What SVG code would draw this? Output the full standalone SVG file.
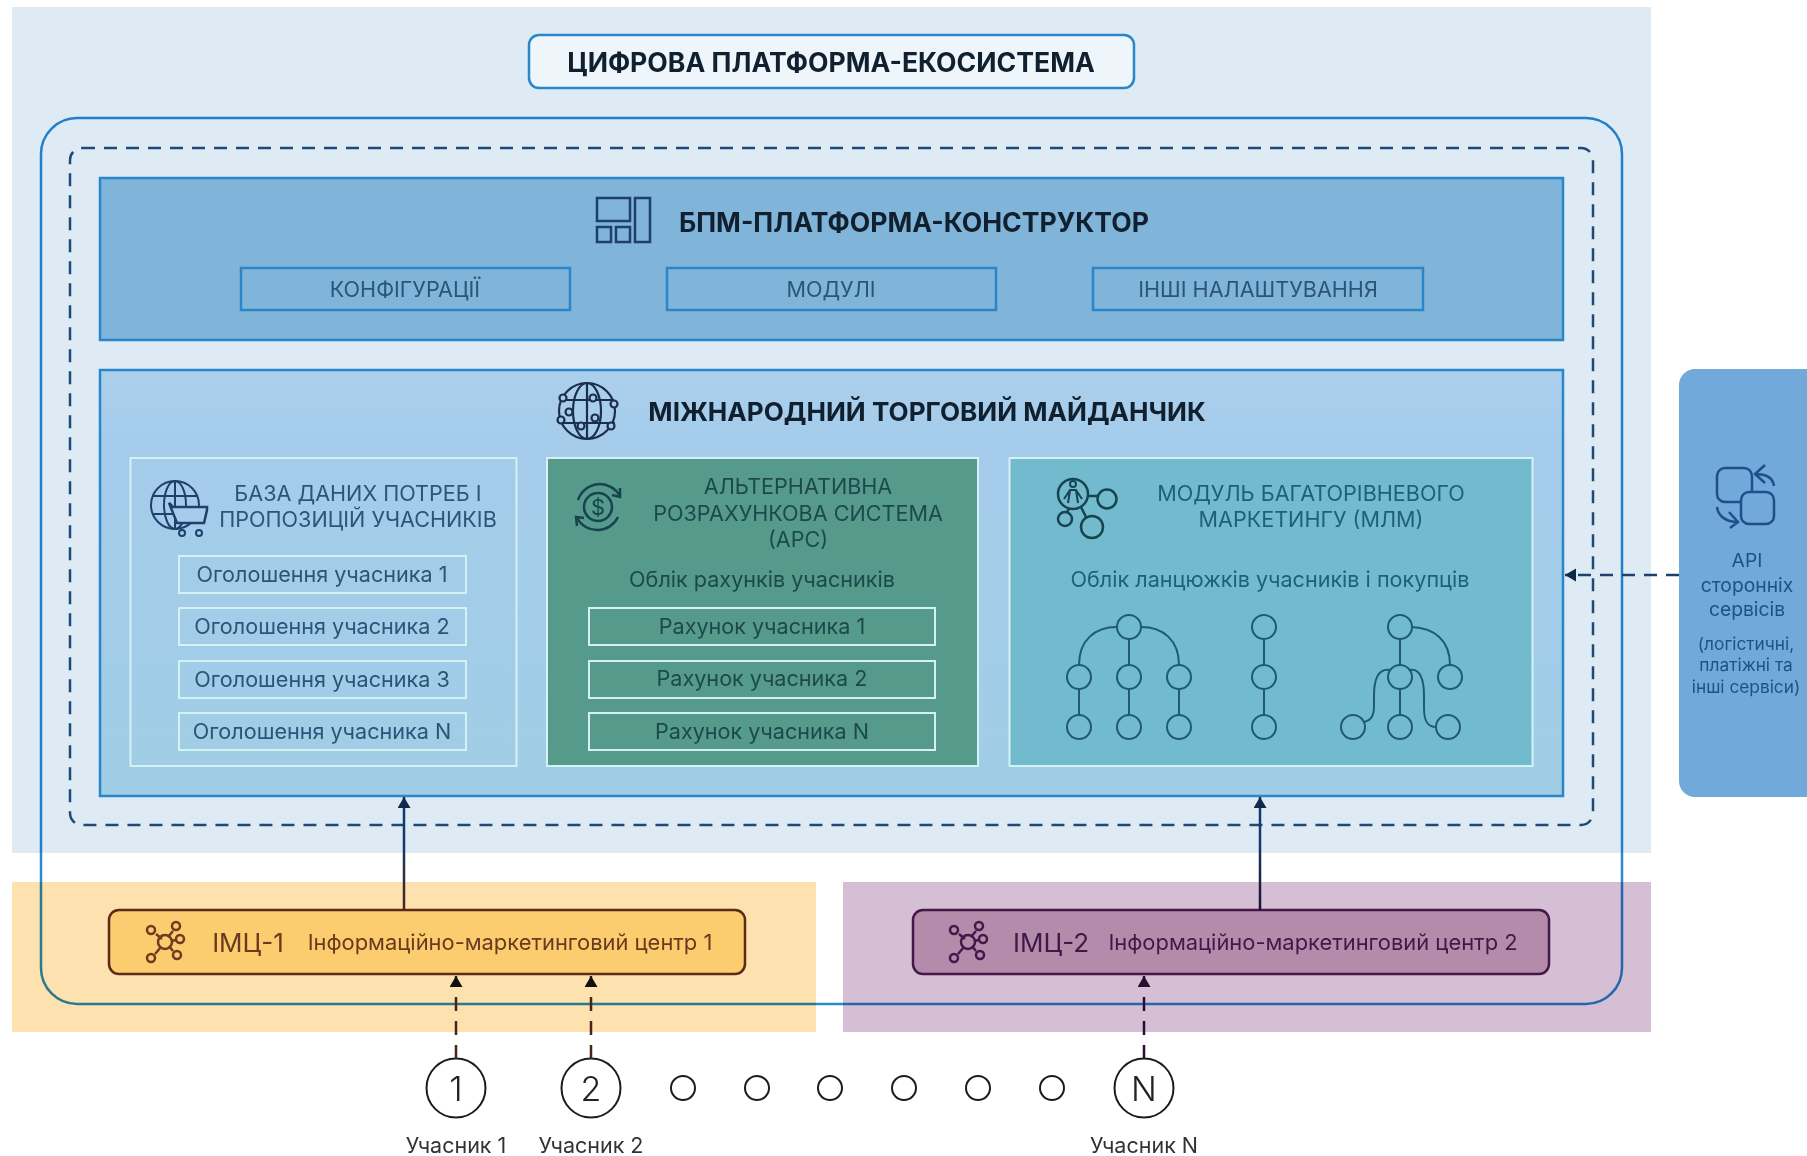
<svg xmlns="http://www.w3.org/2000/svg" width="1807" height="1156" viewBox="0 0 1807 1156">
<style>
text{font-family:Inter,"Noto Sans","Liberation Sans",sans-serif;text-anchor:middle;dominant-baseline:central}
.h{font-weight:700;fill:#10202f}
.t{fill:#2a5578;font-size:21.6px}
.g{fill:#1f5f78;font-size:21.6px}
.d{fill:#1c4a4c;font-size:21.6px}
.wb{fill:none;stroke:#d4f1f4;stroke-width:2}
.sub{fill:none;stroke:#2b86c9;stroke-width:2.5}
.ic{fill:none;stroke:#1f3f6d;stroke-width:2.5}
.icg{fill:none;stroke:#17444e;stroke-width:2.5}
.lk{fill:none;stroke:#1f5a72;stroke-width:2}
</style>
<defs>
<marker id="ah" markerUnits="userSpaceOnUse" markerWidth="12" markerHeight="14" refX="11" refY="6.5" orient="auto"><path d="M0,0L11,6.5L0,13Z" fill="#0f2a4a"/></marker>
<marker id="ab" markerUnits="userSpaceOnUse" markerWidth="12" markerHeight="14" refX="11" refY="6.5" orient="auto"><path d="M0,0L11,6.5L0,13Z" fill="#101010"/></marker>
<marker id="ap" markerUnits="userSpaceOnUse" markerWidth="12" markerHeight="14" refX="11" refY="6.5" orient="auto"><path d="M0,0L11,6.5L0,13Z" fill="#2a1030"/></marker>
<linearGradient id="up1" gradientUnits="userSpaceOnUse" x1="0" y1="796" x2="0" y2="910"><stop offset="0.4" stop-color="#123a6b"/><stop offset="1" stop-color="#4a2418"/></linearGradient>
<linearGradient id="up2" gradientUnits="userSpaceOnUse" x1="0" y1="796" x2="0" y2="910"><stop offset="0.4" stop-color="#123a6b"/><stop offset="1" stop-color="#1c1030"/></linearGradient>
<linearGradient id="mk" x1="0" y1="0" x2="0" y2="1"><stop offset="0" stop-color="#abd0ec"/><stop offset=".15" stop-color="#a5cceb"/><stop offset="1" stop-color="#a0cde6"/></linearGradient>
<g id="hub">
<path d="M-9,-8L-3,-3M8,-11L3,-5M11,-2L6,-1M8,9L4,4M-10,12L-4,5" fill="none" stroke-width="2.5"/>
<circle cx="0" cy="0" r="7" fill="none" stroke-width="2.5"/><circle cx="-14" cy="-12" r="4" fill="none" stroke-width="2.5"/><circle cx="11" cy="-16" r="4" fill="none" stroke-width="2.5"/><circle cx="15" cy="-3" r="4" fill="none" stroke-width="2.5"/><circle cx="12" cy="13" r="4" fill="none" stroke-width="2.5"/><circle cx="-14" cy="16" r="4" fill="none" stroke-width="2.5"/>
</g>
</defs>
<rect width="1807" height="1156" fill="#fff"/>
<rect id="ecosystem-bg" x="12" y="7" width="1639" height="846" fill="#deebf5"/>
<rect id="imc1-band" x="12" y="882" width="804" height="150" fill="#fde2b0"/>
<rect id="imc2-band" x="843" y="882" width="808" height="150" fill="#d5bfd4"/>

<g id="title"><rect x="529" y="35" width="605" height="53" rx="10" fill="#eff6fb" stroke="#2b86c9" stroke-width="2.5"/><text class="h" x="831" y="62" font-size="26.6">ЦИФРОВА ПЛАТФОРМА-ЕКОСИСТЕМА</text></g>

<rect id="outer-frame" x="41" y="118" width="1581" height="886" rx="36" fill="none" stroke="#2a8ad0" stroke-width="2.5" style="mix-blend-mode:multiply"/>
<rect id="dashed-frame" x="70" y="148" width="1523" height="677" rx="12" fill="none" stroke="#1f4a78" stroke-width="2.5" stroke-dasharray="13 9"/>

<g id="bpm">
<rect x="100" y="178" width="1463" height="162" fill="#80b5d9" stroke="#2b86c9" stroke-width="2.5"/>
<g class="ic"><rect x="597" y="198" width="33" height="23"/><rect x="597" y="227" width="14" height="15"/><rect x="616" y="227" width="14" height="15"/><rect x="635" y="198" width="15" height="44"/></g>
<text class="h" x="914" y="222" font-size="26.6">БПМ-ПЛАТФОРМА-КОНСТРУКТОР</text>
<g id="bpm-config"><rect class="sub" x="241" y="268" width="329" height="42"/><text class="t" x="405" y="289">КОНФІГУРАЦІЇ</text></g>
<g id="bpm-modules"><rect class="sub" x="667" y="268" width="329" height="42"/><text class="t" x="831" y="289">МОДУЛІ</text></g>
<g id="bpm-other"><rect class="sub" x="1093" y="268" width="330" height="42"/><text class="t" x="1258" y="289">ІНШІ НАЛАШТУВАННЯ</text></g>
</g>

<g id="market">
<rect x="100" y="370" width="1463" height="426" fill="url(#mk)" stroke="#2b86c9" stroke-width="2.5"/>
<g id="globe-icon" fill="none" stroke="#1b2f4d" stroke-width="2.2">
<circle cx="587" cy="411" r="28"/><ellipse cx="587" cy="411" rx="14" ry="28"/><path d="M587,383V439M560,400H614M559,423H615"/>
<g fill="#a5cceb"><circle cx="563" cy="398" r="3.5"/><circle cx="593" cy="398" r="3.5"/><circle cx="614" cy="404" r="3.5"/><circle cx="569" cy="412" r="3.5"/><circle cx="561" cy="420" r="3.5"/><circle cx="595" cy="418" r="3.5"/><circle cx="581" cy="426" r="3.5"/><circle cx="611" cy="426" r="3.5"/></g>
</g>
<text class="h" x="927" y="411" font-size="26.1">МІЖНАРОДНИЙ ТОРГОВИЙ МАЙДАНЧИК</text>

<g id="panel-db">
<rect class="wb" x="130.500" y="458" width="386" height="308"/>
<g fill="none" stroke="#1f3f6d" stroke-width="2"><circle cx="175" cy="505" r="24"/><ellipse cx="175" cy="505" rx="11" ry="24"/><path d="M175,481V529M153,496H197M153,514H197"/>
<path d="M169,503L177,523H204L207,510V507H173Z" fill="#a5cceb" stroke-width="2.5"/><circle cx="182" cy="533" r="3"/><circle cx="199" cy="533" r="3"/></g>
<text class="t" x="358" y="493">БАЗА ДАНИХ ПОТРЕБ І</text><text class="t" x="358" y="519">ПРОПОЗИЦІЙ УЧАСНИКІВ</text>
<rect class="wb" x="179" y="556" width="287" height="37"/><text class="t" x="322" y="574">Оголошення учасника 1</text>
<rect class="wb" x="179" y="608" width="287" height="37"/><text class="t" x="322" y="626">Оголошення учасника 2</text>
<rect class="wb" x="179" y="661" width="287" height="37"/><text class="t" x="322" y="679">Оголошення учасника 3</text>
<rect class="wb" x="179" y="713" width="287" height="37"/><text class="t" x="322" y="731">Оголошення учасника N</text>
</g>

<g id="panel-ars">
<rect x="547" y="458" width="431" height="308" fill="#559a8b" stroke="#d4f1f4" stroke-width="2"/>
<g class="icg"><circle cx="598" cy="507" r="14"/><path d="M578,500A23,23 0 0 1 620,496M618,517A23,23 0 0 1 577,518"/><path d="M612,495L620,497L620,488M584,518L576,517L577,526"/></g>
<text x="598" y="507" font-size="22" fill="#17444e">$</text>
<text class="d" x="798" y="486">АЛЬТЕРНАТИВНА</text><text class="d" x="798" y="513">РОЗРАХУНКОВА СИСТЕМА</text><text class="d" x="798" y="539">(АРС)</text>
<text class="d" x="762" y="579">Облік рахунків учасників</text>
<rect class="wb" x="589" y="608" width="346" height="37"/><text class="d" x="762" y="626">Рахунок учасника 1</text>
<rect class="wb" x="589" y="661" width="346" height="37"/><text class="d" x="762" y="678">Рахунок учасника 2</text>
<rect class="wb" x="589" y="713" width="346" height="37"/><text class="d" x="762" y="731">Рахунок учасника N</text>
</g>

<g id="panel-mlm">
<rect x="1009.500" y="458" width="523" height="308" fill="#72bbcf" stroke="#d4f1f4" stroke-width="2"/>
<g class="icg"><circle cx="1073" cy="494" r="15"/><circle cx="1107" cy="499" r="9.500"/><circle cx="1065" cy="519" r="7"/><circle cx="1092" cy="527" r="11"/><path d="M1088,496H1098M1069,509L1067,512M1081,507L1086,517"/><circle cx="1073" cy="484" r="3" stroke-width="2"/><path d="M1064,499L1070,490H1076L1082,499M1070,490L1068,503M1076,490L1078,503" stroke-width="2"/></g>
<text class="g" x="1311" y="493">МОДУЛЬ БАГАТОРІВНЕВОГО</text><text class="g" x="1311" y="519">МАРКЕТИНГУ (МЛМ)</text>
<text class="g" x="1270" y="579">Облік ланцюжків учасників і покупців</text>
<g id="trees" class="lk">
<path d="M1129,639V665M1129,689V715M1079,689V715M1179,689V715M1264,639V665M1264,689V715M1400,639V665M1400,689V715"/>
<path d="M1117,627C1095,627 1079,640 1079,665M1141,627C1163,627 1179,640 1179,665M1412,627C1434,628 1450,640 1450,665"/>
<path d="M1390,670C1378,668 1374,680 1374,695V705C1374,715 1372,720 1364,722M1410,670C1420,668 1424,680 1424,695V708C1424,722 1428,727 1436,727"/>
<circle cx="1129" cy="627" r="12"/><circle cx="1079" cy="677" r="12"/><circle cx="1129" cy="677" r="12"/><circle cx="1179" cy="677" r="12"/><circle cx="1079" cy="727" r="12"/><circle cx="1129" cy="727" r="12"/><circle cx="1179" cy="727" r="12"/>
<circle cx="1264" cy="627" r="12"/><circle cx="1264" cy="677" r="12"/><circle cx="1264" cy="727" r="12"/>
<circle cx="1400" cy="627" r="12"/><circle cx="1400" cy="677" r="12"/><circle cx="1450" cy="677" r="12"/><circle cx="1353" cy="727" r="12"/><circle cx="1400" cy="727" r="12"/><circle cx="1448" cy="727" r="12"/>
</g>
</g>
</g>

<g id="api">
<path d="M1695,369H1807V797H1695A16,16 0 0 1 1679,781V385A16,16 0 0 1 1695,369Z" fill="#71a9da"/>
<g fill="none" stroke="#1f4f8a" stroke-width="2.5"><path d="M1741,502H1725A8,8 0 0 1 1717,494V476A8,8 0 0 1 1725,468H1744A8,8 0 0 1 1752,476V492"/><rect x="1741" y="492" width="33" height="32" rx="8"/><path d="M1774,486C1773,478 1766,474 1755,474M1765,465L1755,474L1765,483M1717,507C1718,516 1726,522 1738,522M1729,512L1738,522L1730,528"/></g>
<g fill="#1d5384"><g font-size="19.300"><text x="1747" y="560">API</text><text x="1747" y="585">сторонніх</text><text x="1747" y="609">сервісів</text></g><g font-size="17.300"><text x="1746" y="643">(логістичні,</text><text x="1746" y="664">платіжні та</text><text x="1746" y="686">інші сервіси)</text></g></g>
</g>

<g id="imc1">
<rect x="109" y="910" width="636" height="64" rx="10" fill="#fbcd6e" stroke="#5c2a18" stroke-width="2.5"/>
<use href="#hub" x="165" y="942" stroke="#6f3b20"/>
<text x="248" y="942" font-size="26" fill="#6a3a20">ІМЦ-1</text><text x="510" y="942" font-size="21.900" fill="#6a3a20">Інформаційно-маркетинговий центр 1</text>
</g>
<g id="imc2">
<rect x="913" y="910" width="636" height="64" rx="10" fill="#b58bab" stroke="#44184a" stroke-width="2.5"/>
<use href="#hub" x="968" y="942" stroke="#44184a"/>
<text x="1051" y="942" font-size="26" fill="#3e1a48">ІМЦ-2</text><text x="1313" y="942" font-size="21.900" fill="#3e1a48">Інформаційно-маркетинговий центр 2</text>
</g>

<g id="participants" fill="none" stroke="#1c1c1c" stroke-width="2">
<g id="p1"><circle cx="456" cy="1088" r="29.500"/><text x="456" y="1088" font-size="34" font-weight="300" fill="#222" stroke="none">1</text></g>
<g id="p2"><circle cx="591" cy="1088" r="29.500"/><text x="591" y="1088" font-size="34" font-weight="300" fill="#222" stroke="none">2</text></g>
<g id="pN"><circle cx="1144" cy="1088" r="29.500"/><text x="1144" y="1088" font-size="34" font-weight="300" fill="#222" stroke="none">N</text></g>
<circle cx="683" cy="1088" r="12"/><circle cx="757" cy="1088" r="12"/><circle cx="830" cy="1088" r="12"/><circle cx="904" cy="1088" r="12"/><circle cx="978" cy="1088" r="12"/><circle cx="1052" cy="1088" r="12"/>
</g>
<g fill="#333" font-size="21.500"><text x="456" y="1145">Учасник 1</text><text x="591" y="1145">Учасник 2</text><text x="1144" y="1145">Учасник N</text></g>

<g id="connectors" fill="none" stroke-width="2.500">
<line x1="404" y1="910" x2="404" y2="797" stroke="url(#up1)" marker-end="url(#ah)"/>
<line x1="1260" y1="910" x2="1260" y2="797" stroke="url(#up2)" marker-end="url(#ah)"/>
<line x1="456" y1="1059" x2="456" y2="976" stroke="#4a2418" stroke-dasharray="14 10" marker-end="url(#ab)"/>
<line x1="591" y1="1059" x2="591" y2="976" stroke="#4a2418" stroke-dasharray="14 10" marker-end="url(#ab)"/>
<line x1="1144" y1="1059" x2="1144" y2="976" stroke="#2a1030" stroke-dasharray="14 10" marker-end="url(#ap)"/>
<line x1="1679" y1="575" x2="1565" y2="575" stroke="#1f3f6d" stroke-dasharray="13 9" marker-end="url(#ah)"/>
</g>
</svg>
